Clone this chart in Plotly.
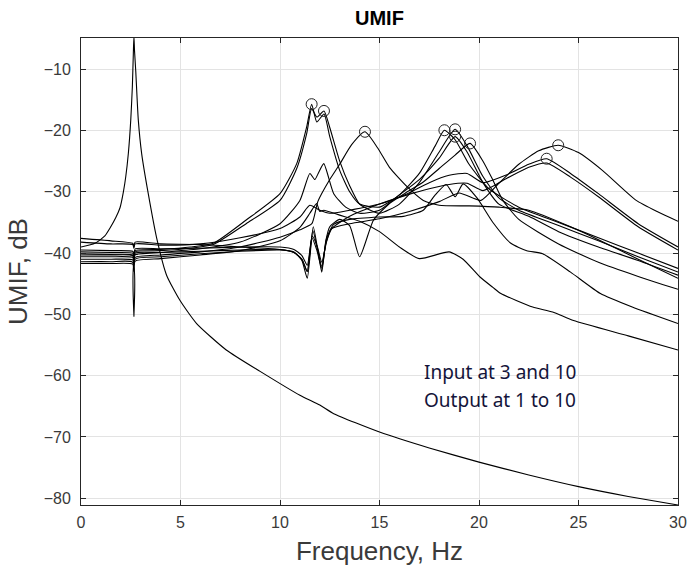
import plotly.graph_objects as go

# ---- data ----
f_m = [0, 0.7, 1.2, 1.46, 1.75, 1.96, 2.13, 2.25, 2.38, 2.5, 2.58, 2.63, 2.66, 2.69, 2.75, 2.88, 3.05, 3.38, 3.8, 4.3, 4.97, 5.81, 7.3, 9.0, 11.0, 12.0, 12.7, 15.0, 17.5, 20.0, 22.5, 25.0, 27.5, 30.0]
db_m = [-39.0, -38.4, -37.2, -35.9, -34.2, -32.6, -30.0, -27.5, -23.7, -18.3, -12.9, -7.4, -4.6, -7.0, -10.2, -18.3, -23.8, -30.3, -37.5, -43.6, -47.7, -51.5, -55.8, -59.3, -63.2, -64.8, -66.2, -69.2, -71.8, -74.1, -76.2, -78.1, -79.7, -81.1]

f_k1 = [0, 1.5, 2.6, 2.66, 2.72, 4, 5.5, 6.65, 8.3, 10.0, 10.84, 11.34, 11.59, 11.85, 12.21, 12.5, 13.0, 13.5, 14.0, 15.0, 16.0, 17.0, 17.8, 18.26, 18.8, 19.5, 20.5, 22, 24, 26, 28, 30]
db_k1 = [-39.8, -39.9, -40.0, -40.6, -39.6, -39.4, -39.0, -38.4, -34.6, -30.3, -25.4, -19.4, -15.7, -18.6, -17.3, -21.0, -26.5, -30.0, -32.0, -32.5, -30.5, -27.0, -22.5, -19.95, -21.5, -25.5, -29.5, -32.5, -35.0, -37.5, -40.0, -42.5]

f_k2 = [0, 1.5, 2.6, 2.66, 2.72, 4, 5.5, 6.65, 8.3, 10.0, 10.84, 11.34, 11.59, 11.85, 12.21, 12.5, 13.0, 13.5, 14.0, 15.0, 16.0, 17.0, 18.0, 18.8, 19.4, 20.2, 21.0, 22, 24, 26, 28, 30]
db_k2 = [-40.1, -40.2, -40.3, -41.0, -39.8, -39.6, -39.2, -38.6, -35.2, -31.4, -26.2, -20.5, -16.4, -17.8, -16.8, -19.5, -25.0, -29.0, -32.0, -33.5, -32.0, -28.5, -23.5, -19.8, -22.5, -27.5, -31.0, -33.0, -35.5, -38.0, -40.6, -43.1]

f_k3 = [0, 1.5, 2.6, 2.66, 2.72, 4, 6, 8, 10.0, 11.0, 11.5, 11.75, 11.95, 12.2, 12.7, 13.3, 14.0, 15.0, 16.0, 17.0, 18.0, 18.8, 19.4, 20.2, 21.0, 22.5, 24, 26, 28, 30]
db_k3 = [-40.6, -40.6, -40.7, -41.5, -40.3, -39.9, -39.3, -38.2, -35.2, -31.4, -27.0, -28.0, -26.8, -25.4, -30.3, -32.5, -33.5, -33.0, -30.5, -28.0, -24.5, -21.0, -23.5, -28.5, -32.0, -34.0, -36.5, -39.0, -41.2, -43.6]

f_k4 = [0, 1.5, 2.6, 2.66, 2.72, 4, 6, 8, 10.0, 11.0, 11.6, 11.9, 12.5, 13.0, 13.6, 14.27, 14.9, 15.5, 16.4, 17.2, 18.0, 19.5, 21.0, 22.5, 24.6, 26, 28, 30]
db_k4 = [-41.0, -41.0, -41.1, -42.0, -40.7, -40.3, -39.8, -39.0, -37.4, -36.2, -35.2, -31.6, -28.0, -25.5, -22.3, -20.2, -22.8, -26.0, -29.2, -31.4, -32.2, -32.3, -32.5, -33.0, -35.7, -37.8, -41.0, -44.1]

f_k5 = [0, 1.5, 2.6, 2.66, 2.72, 4, 6, 8, 10.0, 10.7, 11.1, 11.37, 11.67, 11.9, 12.1, 12.3, 12.5, 13.0, 13.5, 14.0, 14.7, 15.5, 16.4, 17.2, 18.0, 18.8, 19.55, 20.2, 20.7, 21.2, 22.0, 24, 26, 28, 30]
db_k5 = [-41.4, -41.4, -41.5, -50.3, -41.0, -40.6, -40.1, -39.7, -39.5, -39.8, -41.2, -44.1, -35.7, -39.5, -43.1, -38.0, -35.7, -34.5, -35.5, -40.6, -34.6, -31.9, -30.0, -28.4, -26.2, -24.0, -22.1, -25.0, -28.1, -31.4, -34.5, -38.5, -41.5, -43.8, -45.9]

f_k6 = [0, 1.5, 2.6, 2.66, 2.72, 4, 6, 8, 10.0, 10.7, 11.1, 11.37, 11.6, 11.85, 12.1, 12.3, 12.6, 13.5, 15.0, 16.5, 18.0, 19.0, 20.1, 21.0, 22.0, 23.0, 23.98, 25.0, 26.2, 27.9, 29.0, 30.0]
db_k6 = [-37.6, -38.0, -38.4, -38.9, -38.2, -38.5, -38.6, -39.0, -39.4, -39.9, -41.0, -43.0, -37.5, -39.5, -42.5, -38.5, -36.0, -35.2, -34.4, -33.2, -31.6, -30.2, -31.4, -28.6, -25.5, -23.3, -22.4, -23.6, -26.5, -31.4, -33.3, -34.8]

f_k7 = [0, 1.5, 2.6, 2.66, 2.72, 4, 6, 8, 10.0, 11.0, 11.5, 12.0, 12.5, 13.5, 15.0, 16.4, 17.5, 18.5, 19.4, 20.2, 21.4, 22.5, 23.4, 24.6, 26.0, 28.0, 30.0]
db_k7 = [-38.2, -38.5, -38.6, -39.2, -38.5, -38.7, -38.5, -37.5, -36.0, -34.1, -32.2, -33.0, -33.5, -33.0, -32.0, -30.3, -28.5, -27.3, -27.0, -28.5, -27.2, -25.5, -24.6, -27.0, -30.3, -35.2, -39.0]

f_k8 = [0, 1.5, 2.6, 2.66, 2.72, 4, 6, 8, 10.0, 10.7, 11.1, 11.37, 11.62, 11.88, 12.1, 12.35, 12.6, 13.5, 15.0, 16.4, 17.5, 18.5, 19.4, 20.2, 21.4, 22.5, 23.4, 24.6, 26.0, 28.0, 30.0]
db_k8 = [-39.5, -39.6, -39.7, -40.2, -39.3, -39.3, -39.2, -39.0, -39.0, -39.4, -40.4, -42.0, -37.2, -39.0, -41.5, -38.0, -36.0, -34.0, -32.0, -30.5, -29.5, -28.8, -28.6, -29.8, -27.8, -26.0, -25.3, -27.6, -30.8, -35.7, -39.5]

f_k9 = [0, 1.5, 2.6, 2.66, 2.72, 4, 6, 8, 10.0, 10.7, 11.1, 11.37, 11.65, 11.9, 12.1, 12.35, 12.7, 13.5, 15.0, 16.2, 17.2, 17.8, 18.35, 18.8, 19.2, 19.9, 20.7, 21.6, 22.4, 23.2, 24.6, 26.1, 27.7, 30.0]
db_k9 = [-40.3, -40.3, -40.4, -41.2, -40.0, -39.9, -39.7, -39.5, -39.4, -39.9, -41.0, -43.0, -36.3, -39.6, -42.2, -37.5, -35.3, -34.5, -34.1, -34.0, -33.0, -30.5, -28.8, -30.8, -28.7, -31.0, -35.0, -38.4, -39.6, -40.1, -43.1, -46.6, -48.8, -51.5]

f_k10 = [0, 1.5, 2.6, 2.66, 2.72, 4, 6, 8, 10.0, 11.0, 11.5, 11.84, 12.0, 12.2, 13.0, 14.0, 15.0, 16.0, 17.0, 18.5, 19.2, 20.05, 20.7, 21.1, 22.7, 23.7, 24.75, 27.5, 30.0]
db_k10 = [-41.7, -41.7, -41.8, -43.0, -41.3, -40.9, -40.3, -39.6, -38.0, -35.8, -33.5, -31.9, -33.2, -33.0, -33.8, -34.8, -36.5, -39.0, -40.9, -39.8, -41.0, -43.9, -45.6, -46.6, -48.8, -49.6, -51.0, -53.5, -55.8]

curves = [(f_m, db_m), (f_k1, db_k1), (f_k2, db_k2), (f_k3, db_k3), (f_k4, db_k4),
          (f_k5, db_k5), (f_k6, db_k6), (f_k7, db_k7), (f_k8, db_k8), (f_k9, db_k9), (f_k10, db_k10)]

peak_f = [2.66, 11.59, 12.21, 14.27, 18.26, 18.8, 18.8, 19.55, 23.4, 23.98]
peak_db = [-4.6, -15.7, -16.8, -20.2, -19.95, -19.8, -21.0, -22.1, -24.6, -22.4]

note_lines = ["Input at 3 and 10", "Output at 1 to 10"]
note_x = 17.12
note_y = [-59.4, -63.95]

x_ticks = [0, 5, 10, 15, 20, 25, 30]
y_ticks = [-80, -70, -60, -50, -40, -30, -20, -10]

fig = go.Figure()
for fx, dy in curves:
    fig.add_trace(go.Scatter(x=fx, y=dy, mode="lines",
                             line=dict(color="black", width=1.1, shape="spline", smoothing=0.55),
                             showlegend=False, hoverinfo="skip"))
fig.add_trace(go.Scatter(x=peak_f, y=peak_db, mode="markers",
                         marker=dict(symbol="circle-open", size=11, color="#222222", line=dict(width=1)),
                         cliponaxis=False, showlegend=False, hoverinfo="skip"))

for txt, yy in zip(note_lines, note_y):
    fig.add_annotation(x=note_x, y=yy, xref="x", yref="y", xanchor="left", yanchor="middle",
                       text=txt, showarrow=False, align="left",
                       font=dict(family="Noto Sans", size=19, color="#14143a"))
fig.add_annotation(x=0.5, y=1.0 + 20.0 / 467.0, xref="paper", yref="paper", xanchor="center", yanchor="middle",
                   text="<b>UMIF</b>", showarrow=False,
                   font=dict(family="Liberation Sans", size=20, color="black"))

axis_common = dict(showline=True, linecolor="#262626", linewidth=1, mirror="ticks",
                   ticks="inside", ticklen=5, tickcolor="#262626", automargin=False,
                   showgrid=True, gridcolor="#e3e3e3", gridwidth=1, zeroline=False,
                   tickfont=dict(family="Liberation Sans", size=16, color="#3a3a3a"))

fig.update_layout(
    width=691, height=575,
    margin=dict(l=81, r=13, t=38, b=70),
    paper_bgcolor="white", plot_bgcolor="white",
    xaxis=dict(range=[0, 30], tickvals=x_ticks, ticktext=[str(v) for v in x_ticks],
               title=dict(text="Frequency, Hz", font=dict(family="Liberation Sans", size=26, color="#3a3a3a"), standoff=11),
               ticklabelstandoff=3, **axis_common),
    yaxis=dict(range=[-81.1, -4.9], tickvals=y_ticks, ticktext=[str(v).replace("-", "\u2212") for v in y_ticks],
               title=dict(text="UMIF, dB", font=dict(family="Liberation Sans", size=26, color="#3a3a3a"), standoff=8),
               ticklabelstandoff=6, **axis_common),
)

fig.write_html("out.html", config={"displayModeBar": False},
               post_script="document.body.style.margin='0';document.body.style.overflow='hidden';")
